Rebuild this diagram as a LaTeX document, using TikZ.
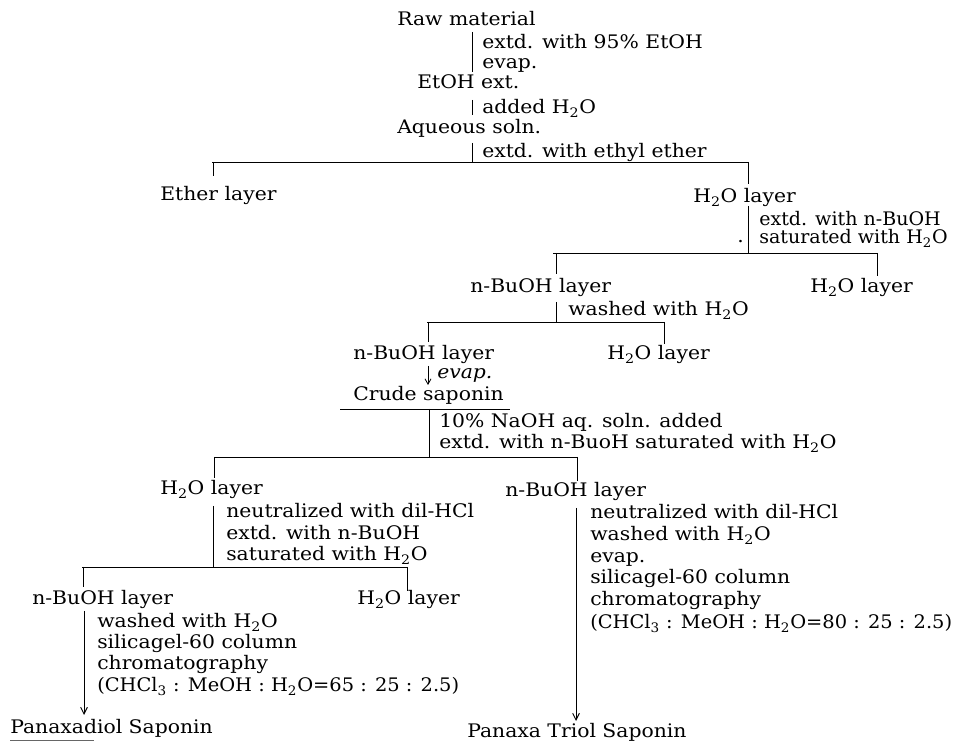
\documentclass[tikz,border=0pt]{standalone}
\usepackage{fontspec}
\setmainfont{DejaVu Serif}[FakeStretch=1.09]
\newfontfamily\narrowserif{DejaVu Serif}[FakeStretch=1.04]
\newfontfamily\narrowerserif{DejaVu Serif}[FakeStretch=1.02]
\usetikzlibrary{arrows.meta}
\newcommand{\HtO}{H\textsubscript{2}O}
\newcommand{\ClT}{Cl\textsubscript{3}}
\begin{document}
\begin{tikzpicture}[x=0.75pt,y=-0.75pt,
  lbl/.style={inner sep=0pt, anchor=base west, font=\fontsize{14}{17}\selectfont},
  nlbl/.style={lbl, font=\fontsize{14}{17}\selectfont\narrowserif},
  rlbl/.style={lbl, font=\fontsize{14}{17}\selectfont\narrowerserif},
  ln/.style={line width=0.7pt},
  arr/.style={line width=0.7pt, -{Straight Barb[length=5pt,width=5pt]}}]
\useasboundingbox (0,0) rectangle (958,741);
\fill[white] (0,0) rectangle (958,741);

% ---------- top column ----------
\node[lbl] (raw) at (397,26) {Raw material};
\coordinate (v1a) at (472,32);  \coordinate (v1b) at (472,72);
\node[lbl] (t1a) at (482,49) {extd. with 95\% EtOH};
\node[lbl] (t1b) at (482,69) {evap.};
\node[lbl] (etoh) at (417,89) {EtOH ext.};
\coordinate (v2a) at (472,100); \coordinate (v2b) at (472,115);
\node[lbl] (t2) at (482,114) {added \HtO};
\node[lbl] (aq) at (397,134) {Aqueous soln.};
\coordinate (v3a) at (472,143); \coordinate (j1) at (472,162);
\node[lbl] (t3) at (482,158) {extd. with ethyl ether};
\draw[ln] (v1a) -- (v1b);
\draw[ln] (v2a) -- (v2b);
\draw[ln] (v3a) -- (j1);

% split 1
\coordinate (b1L) at (212,162); \coordinate (b1R) at (749,162);
\draw[ln] (b1L) -- (b1R);
\coordinate (k1L) at (213,176); \coordinate (k1R) at (748,184);
\draw[ln] (213,162) -- (k1L);
\draw[ln] (748,162) -- (k1R);
\node[lbl] (ether) at (160,201) {Ether layer};
\node[lbl] (aq1) at (693,203) {\HtO\ layer};

% ---------- H2O layer branch ----------
\coordinate (v4a) at (748,206); \coordinate (j2) at (748,253);
\draw[ln] (v4a) -- (j2);
\node[rlbl] (t4a) at (759,226) {extd. with n-BuOH};
\node[rlbl] (t4b) at (759,244) {saturated with \HtO};
\node[lbl] (dot) at (737,243) {.};

\coordinate (b2L) at (553,253); \coordinate (b2R) at (878,253);
\draw[ln] (b2L) -- (b2R);
\coordinate (k2L) at (556,274); \coordinate (k2R) at (877,276);
\draw[ln] (556,253) -- (k2L);
\draw[ln] (877,253) -- (k2R);
\node[lbl] (bu1) at (470,293) {n-BuOH layer};
\node[lbl] (aq2) at (810,293) {\HtO\ layer};

\coordinate (v5a) at (556,302); \coordinate (j3) at (556,322);
\draw[ln] (v5a) -- (j3);
\node[lbl] (t5) at (568,316) {washed with \HtO};

\coordinate (b3L) at (427,322); \coordinate (b3R) at (665,322);
\draw[ln] (b3L) -- (b3R);
\coordinate (k3L) at (428,342); \coordinate (k3R) at (664,344);
\draw[ln] (428,322) -- (k3L);
\draw[ln] (664,322) -- (k3R);
\node[lbl] (bu2) at (353,360) {n-BuOH layer};
\node[lbl] (aq3) at (607,360) {\HtO\ layer};

\coordinate (a1a) at (428,366); \coordinate (a1b) at (428,385);
\draw[line width=0.6pt, -{Straight Barb[length=4pt,width=4.5pt]}] (a1a) -- (a1b);
\node[lbl] (t6) at (437,379) {\textit{evap.}};
\node[lbl] (crude) at (353,401) {Crude saponin};
\coordinate (u1L) at (340,409); \coordinate (u1R) at (510,409);
\draw[ln] (u1L) -- (u1R);

\coordinate (v6a) at (429,409); \coordinate (j4) at (429,457);
\draw[ln] (v6a) -- (j4);
\node[lbl] (t7a) at (439,428) {10\% NaOH aq. soln. added};
\node[lbl] (t7b) at (439,449) {extd. with n-BuoH saturated with \HtO};

\coordinate (b4L) at (214,457); \coordinate (b4R) at (578,457);
\draw[ln] (b4L) -- (b4R);
\coordinate (k4L) at (214,478); \coordinate (k4R) at (577,481);
\draw[ln] (214,457) -- (k4L);
\draw[ln] (577,457) -- (k4R);
\node[lbl] (aq4) at (160,495) {\HtO\ layer};
\node[lbl] (bu3) at (505,497) {n-BuOH layer};

% ---------- left lower branch ----------
\coordinate (v7a) at (213,506); \coordinate (j5) at (213,567);
\draw[ln] (v7a) -- (j5);
\node[lbl] (t8a) at (226,518) {neutralized with dil-HCl};
\node[lbl] (t8b) at (226,540) {extd. with n-BuOH};
\node[lbl] (t8c) at (226,561) {saturated with \HtO};

\coordinate (b5L) at (82,567); \coordinate (b5R) at (408,567);
\draw[ln] (b5L) -- (b5R);
\coordinate (k5L) at (83,587); \coordinate (k5R) at (407,591);
\draw[ln] (83,567) -- (k5L);
\draw[ln] (407,567) -- (k5R);
\node[lbl] (bu4) at (32,605) {n-BuOH layer};
\node[lbl] (aq5) at (357,605) {\HtO\ layer};

\coordinate (a2a) at (84,611); \coordinate (a2b) at (84,715);
\draw[arr] (a2a) -- (a2b);
\node[lbl] (t9a) at (97,628) {washed with \HtO};
\node[lbl] (t9b) at (97,649) {silicagel-60 column};
\node[lbl] (t9c) at (97,670) {chromatography};
\node[nlbl] (t9d) at (97,692) {(CH\ClT\ : MeOH : \HtO{}=65 : 25 : 2.5)};
\node[lbl] (pd) at (10,734) {Panaxadiol Saponin};
\coordinate (u2L) at (10,740); \coordinate (u2R) at (94,740);
\draw[line width=0.5pt, black!60] (u2L) -- (u2R);

% ---------- right lower branch ----------
\coordinate (a3a) at (576,508); \coordinate (a3b) at (576,721);
\draw[arr] (a3a) -- (a3b);
\node[lbl] (t10a) at (590,519) {neutralized with dil-HCl};
\node[lbl] (t10b) at (590,541) {washed with \HtO};
\node[lbl] (t10c) at (590,563) {evap.};
\node[lbl] (t10d) at (590,584) {silicagel-60 column};
\node[lbl] (t10e) at (590,606) {chromatography};
\node[nlbl] (t10f) at (590,629) {(CH\ClT\ : MeOH : \HtO{}=80 : 25 : 2.5)};
\node[lbl] (pt) at (467,738) {Panaxa Triol Saponin};
\end{tikzpicture}
\end{document}
